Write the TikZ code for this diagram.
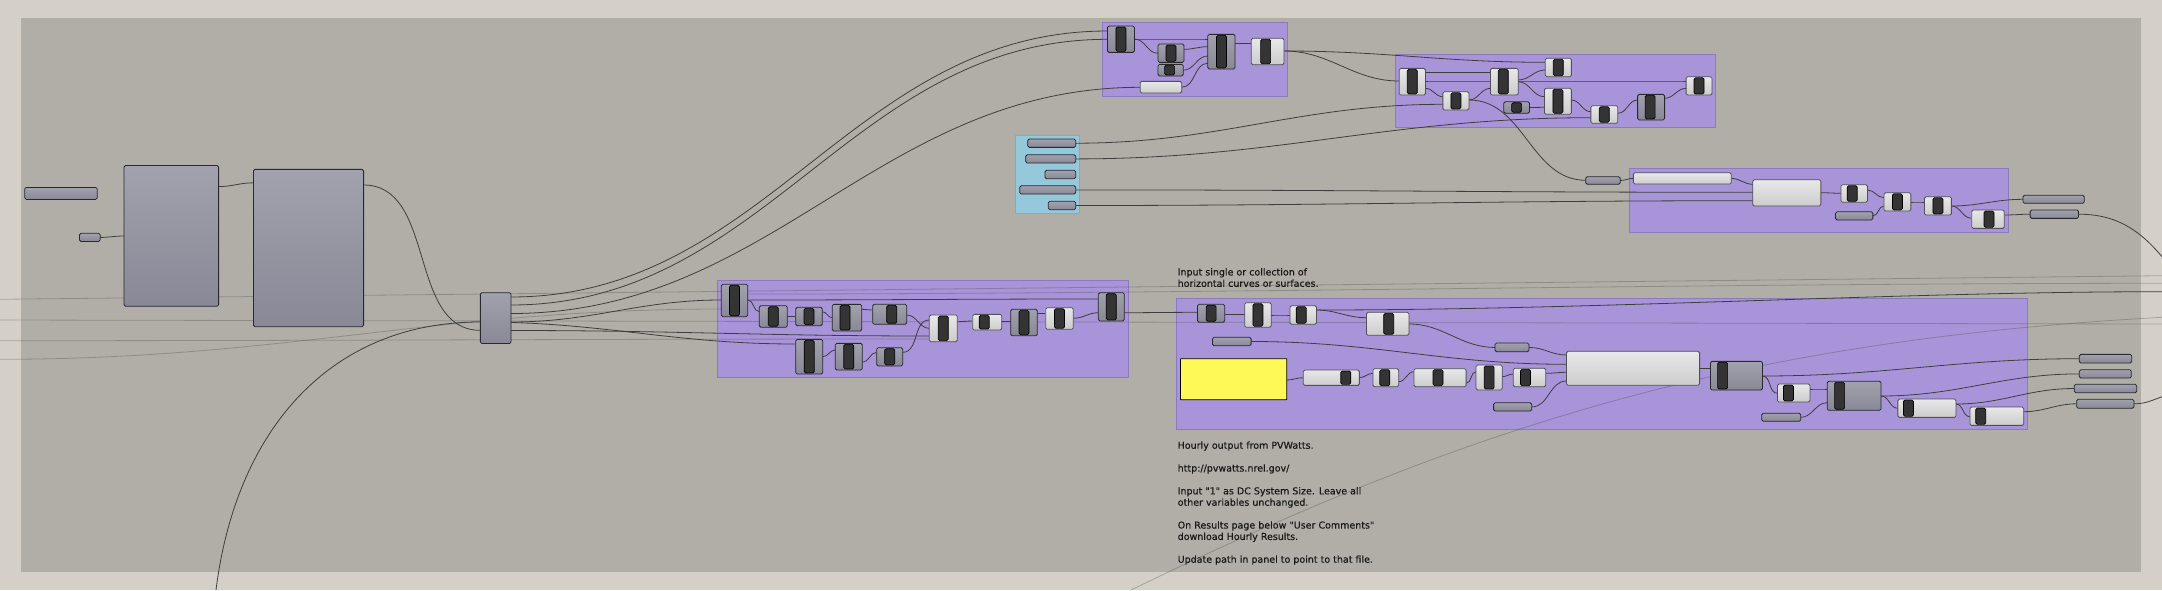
\documentclass[tikz,border=0pt]{standalone}
\usepackage{fontspec}
\newfontfamily\notefont{DejaVu Sans}[FakeBold=0.4]
\definecolor{ghouter}{RGB}{212,208,200}
\definecolor{ghcanvas}{RGB}{176,174,167}
\definecolor{ghgrp}{RGB}{168,148,216}
\definecolor{ghgrpline}{RGB}{140,122,190}
\definecolor{ghblue}{RGB}{150,200,220}
\definecolor{ghblueline}{RGB}{128,172,192}
\definecolor{ghgtop}{RGB}{162,162,174}
\definecolor{ghgbot}{RGB}{136,136,150}
\definecolor{ghwtop}{RGB}{232,232,232}
\definecolor{ghwbot}{RGB}{204,204,204}
\definecolor{ghline}{RGB}{40,40,46}
\definecolor{ghwline}{RGB}{80,80,86}
\definecolor{ghknob}{RGB}{52,52,52}
\definecolor{ghwire}{RGB}{62,62,62}
\definecolor{ghyel}{RGB}{255,249,88}
\definecolor{ghtxt}{RGB}{25,25,25}
\pgfdeclarelayer{back}
\pgfdeclarelayer{wires}
\pgfsetlayers{back,wires,main}
\tikzset{
  box/.style={rectangle, rounded corners=1.5pt, inner sep=0pt, outer sep=0pt, line width=0.8pt},
  sz/.style 2 args={minimum width=#1, minimum height=#2},
  knob/.style={fill=ghknob, draw=black, line width=0.7pt, rounded corners=1.5pt},
  barpic/.style={path picture={\draw[knob] ([xshift=#1pt-5pt,yshift=-1pt]path picture bounding box.north) rectangle ([xshift=#1pt+5pt,yshift=1pt]path picture bounding box.south);}},
  big/.style={box, draw=ghline, top color=ghgtop, bottom color=ghgbot},
  prm/.style={big},
  wbox/.style={box, draw=ghwline, top color=ghwtop, bottom color=ghwbot},
  gcomp/.style={big, barpic=#1}, gcomp/.default=0,
  wcomp/.style={wbox, barpic=#1}, wcomp/.default=0,
  panel/.style={box, rounded corners=0.5pt, fill=ghyel, draw=black},
  grp/.style={fill=ghgrp, draw=ghgrpline, line width=0.8pt},
  bgrp/.style={fill=ghblue, draw=ghblueline, line width=0.8pt},
  wire/.style={draw=ghwire, line width=0.8pt, out=0, in=180},
  faint/.style={wire, draw opacity=0.3},
  txt/.style={font=\notefont\fontsize{9.5}{11.4}\selectfont, text=ghtxt, align=left, inner sep=0pt, anchor=north west}
}
\begin{document}
\begin{tikzpicture}[x=1pt,y=-1pt]
\useasboundingbox (0,0) rectangle (2162,590);
\begin{pgfonlayer}{back}
\fill[ghouter] (0,0) rectangle (2162,590);
\fill[ghcanvas] (20.7,17.7) rectangle (2140.5,572);
% groups
\draw[grp] (1102.8,22.3) rectangle (1287.3,96.7);
\draw[grp] (1395.1,54) rectangle (1715.6,127.3);
\draw[grp] (1629.4,168.3) rectangle (2008.6,232);
\draw[bgrp] (1015.7,135) rectangle (1079.3,213.3);
\draw[grp] (717.3,280.3) rectangle (1128.3,377.7);
\draw[grp] (1176,298.5) rectangle (2027,429.3);
\end{pgfonlayer}

% left
\node[prm, sz={72.5}{12}] (prmA) at (61,193.4) {};
\node[prm, sz={20.7}{8.2}] (prmB) at (89.8,237.4) {};
\node[big, sz={94.6}{140.7}] (bigA) at (171.3,235.9) {};
\node[big, sz={110.2}{157.3}] (bigB) at (308.5,248) {};
\node[big, sz={30.7}{50.8}] (hub) at (495.7,318.1) {};

% top group
\node[gcomp, sz={27}{26.3}] (t1) at (1120.9,39.2) {};
\node[gcomp, sz={26}{18.3}] (t2) at (1171,53.2) {};
\node[gcomp=-1, sz={25.2}{11.7}] (t3) at (1170.6,70.2) {};
\node[wbox, sz={41.5}{11.7}] (t4) at (1160.9,87.2) {};
\node[gcomp, sz={27.3}{34.7}] (t5) at (1221.4,51.7) {};
\node[wcomp=-2, sz={32.8}{26.4}] (t6) at (1267.6,51.5) {};

% second group
\node[wcomp, sz={26.2}{26.7}] (s1) at (1412.3,81.7) {};
\node[wcomp, sz={26.1}{18.3}] (s2) at (1455.9,100.9) {};
\node[wcomp, sz={26.1}{18.4}] (s3) at (1558.3,67.5) {};
\node[wcomp=-1, sz={27.8}{26.7}] (s4) at (1504.3,81.7) {};
\node[gcomp, sz={25.7}{11.6}] (s5) at (1516.6,107.5) {};
\node[wcomp, sz={26.9}{26}] (s6) at (1557.9,101.3) {};
\node[wcomp, sz={26.9}{17.6}] (s7) at (1604.3,114.5) {};
\node[gcomp=-1, sz={27}{25.7}] (s8) at (1651.1,107.2) {};
\node[wcomp, sz={25.8}{18.3}] (s9) at (1699,85.9) {};

% blue group
\node[prm, sz={48}{8.3}] (bp1) at (1051.7,143.2) {};
\node[prm, sz={50}{8.3}] (bp2) at (1050.7,158.9) {};
\node[prm, sz={30.7}{8.4}] (bp3) at (1060.3,174.5) {};
\node[prm, sz={56}{8.3}] (bp4) at (1047.7,189.9) {};
\node[prm, sz={27.4}{8.4}] (bp5) at (1062,205.5) {};

% third group
\node[prm, sz={34.4}{7.6}] (pu) at (1603,180.5) {};
\node[wbox, sz={97.9}{11.3}] (u1) at (1682.3,178.4) {};
\node[wbox, sz={68.1}{26.3}] (u2) at (1786.8,192.9) {};
\node[wcomp=-2, sz={26.5}{17.6}] (u3) at (1854.2,193.5) {};
\node[prm, sz={37.3}{8.3}] (u4) at (1854.2,215.9) {};
\node[wcomp, sz={26.9}{18.3}] (u5) at (1897.4,201.9) {};
\node[wcomp, sz={26.9}{18.3}] (u6) at (1937.9,205.9) {};
\node[wcomp=1, sz={32.6}{18.3}] (u7) at (1988,219.2) {};
\node[prm, sz={61.3}{8}] (oa) at (2053.6,199.3) {};
\node[prm, sz={48.4}{8.3}] (ob) at (2054.3,214.2) {};

% left group
\node[gcomp, sz={26.4}{32.4}] (c1) at (734.5,300.5) {};
\node[gcomp, sz={28}{21.6}] (c2) at (773.3,316.5) {};
\node[gcomp, sz={26.6}{18.4}] (c3) at (809,316.5) {};
\node[gcomp=-2, sz={29.4}{26.7}] (c4) at (847,317.7) {};
\node[gcomp=2, sz={34}{20}] (c5) at (889.7,314.3) {};
\node[wcomp, sz={28}{26.7}] (c6) at (943.3,328.3) {};
\node[wcomp=-3, sz={29}{15.7}] (c7) at (987.2,322.2) {};
\node[gcomp, sz={26.6}{26.4}] (c8) at (1024,322.5) {};
\node[wcomp, sz={27.6}{21.6}] (c9) at (1059.5,318.5) {};
\node[gcomp, sz={26}{28.3}] (c10) at (1111.3,306.8) {};
\node[gcomp, sz={27}{34.7}] (c11) at (809.2,356.7) {};
\node[gcomp, sz={27}{26.7}] (c12) at (848.8,356.7) {};
\node[gcomp, sz={26}{18.3}] (c13) at (889.7,356.8) {};

% bottom group
\node[gcomp, sz={27.1}{18}] (b1) at (1211.1,313.3) {};
\node[wcomp, sz={26.5}{24.6}] (b2) at (1257.9,315) {};
\node[wcomp=-2, sz={26.4}{18.6}] (b3) at (1303.2,315) {};
\node[wcomp=1, sz={42.5}{23}] (b4) at (1387.7,323.8) {};
\node[prm, sz={38.6}{8.4}] (ba) at (1231.8,341.5) {};
\node[prm, sz={33.9}{8.7}] (bb) at (1512,347.4) {};
\node[panel, sz={106.4}{41}] (yel) at (1233.6,379.2) {};
\node[wcomp=14.5, sz={56.1}{15.3}] (b5) at (1331.3,377.7) {};
\node[wcomp=-1, sz={25.7}{18}] (b6) at (1385.8,377.7) {};
\node[wcomp=-2, sz={52.2}{18}] (b7) at (1440,377.7) {};
\node[wcomp, sz={26.1}{25}] (b8) at (1489.1,377.5) {};
\node[wcomp=-4, sz={32.5}{18.4}] (b9) at (1529.5,377.5) {};
\node[prm, sz={38.2}{8.3}] (bc) at (1512.7,406.9) {};
\node[wbox, sz={133.2}{34}] (b10) at (1633,368.3) {};
\node[gcomp=-13.8, sz={52}{28.7}] (b11) at (1736.4,375.7) {};
\node[wcomp=-5.3, sz={32.6}{18}] (b12) at (1793.7,393) {};
\node[prm, sz={39.1}{8}] (bd) at (1781.2,417.3) {};
\node[gcomp=-14.5, sz={53.8}{29}] (b13) at (1854.1,395.8) {};
\node[wcomp=-18.5, sz={58.1}{18.3}] (b14) at (1926.9,408.2) {};
\node[wcomp=-16.1, sz={53.8}{18.3}] (b15) at (1996.8,416.2) {};
\node[prm, sz={52.4}{8.7}] (q1) at (2105.5,358.7) {};
\node[prm, sz={52}{8.3}] (q2) at (2105.3,373.9) {};
\node[prm, sz={62.4}{8.4}] (q3) at (2105.5,388.5) {};
\node[prm, sz={57.3}{9}] (q4) at (2105.3,403.8) {};

% notes
\node[txt] (hint) at (1177.5,268) {Input single or collection of\\horizontal curves or surfaces.};
\node[txt] (howto) at (1177.5,441.3) {Hourly output from PVWatts.\\[11.4pt]%
http://pvwatts.nrel.gov/\\[11.4pt]%
Input \symbol{34}1\symbol{34} as DC System Size. Leave all\\%
other variables unchanged.\\[11.4pt]%
On Results page below \symbol{34}User Comments\symbol{34}\\%
download Hourly Results.\\[11.4pt]%
Update path in panel to point to that file.};

% free ends
\coordinate (lin1) at (0,299.3);
\coordinate (lin2) at (0,320);
\coordinate (lin3) at (0,340.7);
\coordinate (lin4) at (0,359.3);
\coordinate (fromlow) at (216,590);
\coordinate (lowmid) at (1131,590);
\coordinate (rout1) at (2162,275.7);
\coordinate (rout2) at (2162,283.3);
\coordinate (rout3) at (2162,317.3);
\coordinate (rout4) at (2162,324);
\coordinate (rout5) at (2162,291.7);
\coordinate (rout6) at (2162,256.7);
\coordinate (rout7) at (2162,396.7);

\begin{pgfonlayer}{wires}
% faint wires
\draw[faint] (lin1) -- (rout1);
\draw[faint] (lin2) -- (rout4);
\draw[faint] (lin3) to (c6.west|-0,339);
\draw[faint] (lin4) to (c1.west|-0,309);
\draw[faint] (c1.east|-0,294) .. controls (1200,294) and (1700,283.3) .. (rout2);
\draw[faint] (lowmid) .. controls (1480,420) and (1750,340) .. (rout3);
% left
\draw[wire] (prmB.east) to (bigA.west|-0,236);
\draw[wire] (bigA.east|-0,186.6) to (bigB.west|-0,182.8);
\draw[wire] (bigB.east|-0,185) to (hub.west|-0,330.3);
\draw[wire] (fromlow) .. controls (236,430) and (330,322) .. (480,322) to (c11.west|-0,344);
\draw[wire] (hub.east|-0,297) to (t1.west|-0,31);
\draw[wire] (hub.east|-0,305) to (t1.west|-0,39.3);
\draw[wire] (hub.east|-0,313.5) to (t4.west|-0,87.3);
\draw[wire] (hub.east|-0,322) to (c1.west|-0,300);
\draw[wire] (hub.east|-0,330.5) to (c6.west|-0,336);
% left group
\draw[wire] (c1.east|-0,300) to (c2.west|-0,311.7);
\draw[wire] (c1.east|-0,300) to (c10.west|-0,299);
\draw[wire] (c2.east) to (c3.west);
\draw[wire] (c3.east|-0,311.7) to (c4.west|-0,317.7);
\draw[wire] (c4.east|-0,309.3) to (c5.west|-0,310);
\draw[wire] (c5.east|-0,315) to (c6.west|-0,328.3);
\draw[wire] (c13.east|-0,352.3) to (c6.west|-0,320);
\draw[wire] (c11.east) to (c12.west|-0,350);
\draw[wire] (c12.east|-0,362.3) to (c13.west|-0,352.3);
\draw[wire] (c6.east|-0,321.7) to (c7.west|-0,321);
\draw[wire] (c7.east|-0,321.7) to (c8.west|-0,321.7);
\draw[wire] (c8.east|-0,313.3) to (c9.west|-0,313.3);
\draw[wire] (c9.east|-0,318.3) to (c10.west|-0,312.7);
\draw[wire] (c10.east|-0,312.7) to (b1.west|-0,312.3);
% top group
\draw[wire] (t1.east|-0,39) to (t5.west|-0,39);
\draw[wire] (t1.east|-0,39) to (t2.west|-0,53.3);
\draw[wire] (t2.east|-0,49.3) to (t5.west|-0,46.7);
\draw[wire] (t3.east) to (t5.west|-0,56);
\draw[wire] (t4.east) to (t5.west|-0,63.3);
\draw[wire] (t5.east|-0,43.3) to (t6.west|-0,43.3);
\draw[wire] (t6.east|-0,51) to (s3.west|-0,62.3);
\draw[wire] (t6.east|-0,51) to (s1.west|-0,81);
% second group
\draw[wire] (s1.east|-0,72.7) to (s4.west|-0,72.7);
\draw[wire] (s1.east|-0,81) to (s9.west|-0,81);
\draw[wire] (s1.east|-0,88.3) to (s2.west|-0,96.7);
\draw[wire] (s2.east|-0,100) to (s4.west|-0,88.3);
\draw[wire] (s2.east|-0,100) to (pu.west|-0,180.3);
\draw[wire] (s4.east|-0,80) to (s3.west|-0,70);
\draw[wire] (s4.east|-0,81.7) to (s6.west|-0,96.7);
\draw[wire] (s5.east) to (s6.west|-0,107.3);
\draw[wire] (s6.east|-0,100) to (s7.west|-0,111.7);
\draw[wire] (s7.east|-0,113.3) to (s8.west|-0,100);
\draw[wire] (s8.east|-0,98.3) to (s9.west|-0,88.3);
\draw[wire] (bp1.east) to (s2.west|-0,104.3);
\draw[wire] (bp2.east) to (s7.west|-0,117.7);
\draw[wire] (bp4.east) to (u2.west|-0,192.3);
\draw[wire] (bp5.east) to (u2.west|-0,200.7);
% third group
\draw[wire] (pu.east) to (u1.west|-0,178.3);
\draw[wire] (u1.east) to (u2.west|-0,184.3);
\draw[wire] (u2.east|-0,192.7) to (u3.west|-0,193.3);
\draw[wire] (u3.east|-0,190) to (u5.west|-0,197.7);
\draw[wire] (u4.east) to (u5.west|-0,206);
\draw[wire] (u5.east|-0,202) to (u6.west|-0,202);
\draw[wire] (u6.east|-0,206) to (oa.west);
\draw[wire] (u6.east|-0,206) to (u7.west|-0,218.3);
\draw[wire] (u7.east|-0,215) to (ob.west);
\draw[wire] (ob.east) to[out=0,in=130] (rout6);
% bottom group
\draw[wire] (b1.east|-0,314.3) to (b2.west|-0,314.3);
\draw[wire] (b2.east) to (b3.west);
\draw[wire] (b3.east|-0,310) to (b4.west|-0,317.7);
\draw[wire] (b3.east|-0,310) .. controls (1600,310) and (1900,291.7) .. (rout5);
\draw[wire] (b4.east|-0,324) to (bb.west);
\draw[wire] (bb.east) to (b10.west|-0,355);
\draw[wire] (ba.east) to (b10.west|-0,364.3);
\draw[wire] (yel.east|-0,380) to (b5.west);
\draw[wire] (b5.east) to (b6.west|-0,373.3);
\draw[wire] (b6.east|-0,381.7) to (b7.west|-0,371.7);
\draw[wire] (b7.east|-0,383.3) to (b8.west|-0,371.7);
\draw[wire] (b8.east|-0,376.7) to (b9.west|-0,374);
\draw[wire] (b9.east|-0,373.3) to (b10.west|-0,372.3);
\draw[wire] (bc.east) to (b10.west|-0,381);
\draw[wire] (b10.east) to (b11.west|-0,368.3);
\draw[wire] (b11.east|-0,376) to (q1.west);
\draw[wire] (b11.east|-0,376) to (b12.west|-0,393.3);
\draw[wire] (b12.east|-0,389) to (b13.west|-0,389);
\draw[wire] (bd.east) to (b13.west|-0,402.7);
\draw[wire] (b13.east|-0,396) to (q2.west);
\draw[wire] (b13.east|-0,396) to (b14.west|-0,408.3);
\draw[wire] (b14.east|-0,404) to (q3.west);
\draw[wire] (b14.east|-0,404) to (b15.west|-0,416.7);
\draw[wire] (b15.east|-0,411.7) to (q4.west);
\draw[wire] (q4.east) to[out=0,in=200] (rout7);
\end{pgfonlayer}
\end{tikzpicture}
\end{document}
